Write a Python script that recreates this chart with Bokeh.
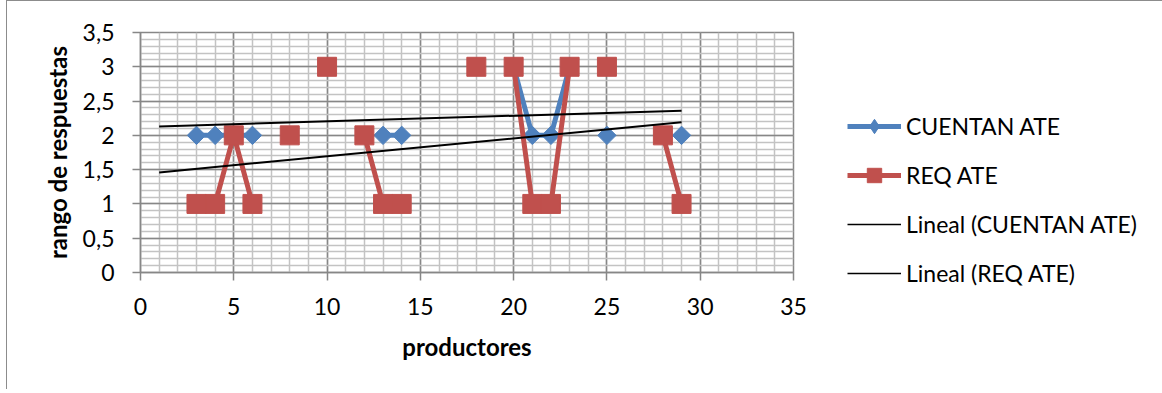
import math
from bokeh.plotting import figure
from bokeh.layouts import row, column
from bokeh.models import (SingleIntervalTicker, CustomJSTickFormatter, Legend,
                          LegendItem, Range1d)
from bokeh.embed import file_html
from bokeh.resources import INLINE

NaN = float("nan")

# ---- data ----
productores = list(range(1, 30))
cuentan_ate = [NaN, NaN, 2, 2, 2, 2, NaN, NaN, NaN, NaN, NaN, NaN, 2, 2,
               NaN, NaN, NaN, NaN, NaN, 3, 2, 2, 3, NaN, 2, NaN, NaN, NaN, 2]
req_ate = [NaN, NaN, 1, 1, 2, 1, NaN, 2, NaN, 3, NaN, 2, 1, 1,
           NaN, NaN, NaN, 3, NaN, 3, 1, 1, 3, NaN, 3, NaN, NaN, 2, 1]
trend_x = [1, 29]
trend_cuentan = [2.13, 2.36]
trend_req = [1.46, 2.19]

series_names = ["CUENTAN ATE", "REQ ATE", "Lineal (CUENTAN ATE)", "Lineal (REQ ATE)"]
x_title = "productores"
y_title = "rango de respuestas"

BLUE = "#4F81BD"
RED = "#C0504D"
FONT = "Lato"

p = figure(width=806, height=388, output_backend="svg", toolbar_location=None,
           x_range=Range1d(0, 35), y_range=Range1d(0, 3.5),
           min_border_left=133, min_border_right=20,
           min_border_top=31, min_border_bottom=117)
p.title.visible = False
p.background_fill_color = "white"
p.border_fill_color = "white"
p.outline_line_color = "#878787"
p.outline_line_width = 1.5

# axes & ticks
p.xaxis.ticker = SingleIntervalTicker(interval=5, num_minor_ticks=5)
p.yaxis.ticker = SingleIntervalTicker(interval=0.5, num_minor_ticks=5)
p.yaxis.formatter = CustomJSTickFormatter(code="return tick.toString().replace('.', ',');")
for ax in (p.xaxis[0], p.yaxis[0]):
    ax.axis_line_color = "#878787"
    ax.axis_line_width = 1.5
    ax.major_tick_line_color = "#878787"
    ax.major_tick_line_width = 1.5
    ax.major_tick_out = 8
    ax.major_tick_in = 0
    ax.minor_tick_line_color = None
    ax.major_label_text_font = FONT
    ax.major_label_text_font_size = "23px"
    ax.major_label_text_color = "black"
    ax.axis_label_text_font = FONT
    ax.axis_label_text_font_style = "bold"
    ax.axis_label_text_font_size = "24px"
    ax.axis_label_text_color = "black"
p.xaxis.axis_label = x_title
p.yaxis.axis_label = y_title
p.xaxis.major_label_standoff = 17
p.xaxis.axis_label_standoff = 14
p.yaxis.major_label_standoff = 18
p.yaxis.axis_label_standoff = 8

# grids
for g in (p.xgrid[0], p.ygrid[0]):
    g.grid_line_color = "#878787"
    g.grid_line_width = 1.5
    g.minor_grid_line_color = "#C3C3C3"
    g.minor_grid_line_width = 1.5

# series
p.line(productores, cuentan_ate, line_color=BLUE, line_width=5)
p.scatter(productores, cuentan_ate, marker="square", angle=math.pi / 4,
          size=13, fill_color=BLUE, line_color=BLUE)
p.line(productores, req_ate, line_color=RED, line_width=5)
p.scatter(productores, req_ate, marker="square", size=19,
          fill_color=RED, line_color=RED)
p.line(trend_x, trend_cuentan, line_color="black", line_width=2)
p.line(trend_x, trend_req, line_color="black", line_width=2)

# legend panel: a separate figure whose (off-range) renderers only feed the legend
q = figure(width=350, height=388, output_backend="svg", toolbar_location=None,
           x_range=Range1d(100, 101), y_range=Range1d(100, 101),
           x_axis_type=None, y_axis_type=None, min_border=0)
q.title.visible = False
q.grid.visible = False
q.outline_line_color = None
q.background_fill_color = "white"
q.border_fill_color = "white"
k1 = q.line(productores, cuentan_ate, line_color=BLUE, line_width=5)
m1 = q.scatter(productores, cuentan_ate, marker="diamond", size=22,
               fill_color=BLUE, line_color=BLUE)
k2 = q.line(productores, req_ate, line_color=RED, line_width=5)
m2 = q.scatter(productores, req_ate, marker="square", size=16,
               fill_color=RED, line_color=RED)
k3 = q.line(trend_x, trend_cuentan, line_color="black", line_width=1.5)
k4 = q.line(trend_x, trend_req, line_color="black", line_width=1.5)

legend = Legend(items=[
    LegendItem(label=series_names[0], renderers=[k1, m1]),
    LegendItem(label=series_names[1], renderers=[k2, m2]),
    LegendItem(label=series_names[2], renderers=[k3]),
    LegendItem(label=series_names[3], renderers=[k4]),
], location=(34, 98))
legend.padding = 0
legend.margin = 0
legend.spacing = 13
legend.label_height = 24
legend.glyph_height = 36
legend.glyph_width = 54
legend.label_standoff = 5
legend.label_text_font = FONT
legend.label_text_font_size = "23px"
legend.label_text_color = "black"
legend.border_line_color = None
legend.background_fill_alpha = 0
q.add_layout(legend)

layout = row(p, column(q), spacing=0,
             styles={"border-left": "1px solid #8c8c8c", "border-top": "1px solid #8c8c8c",
                     "margin-left": "6px"})

open("out.html", "w").write(file_html(layout, INLINE))
